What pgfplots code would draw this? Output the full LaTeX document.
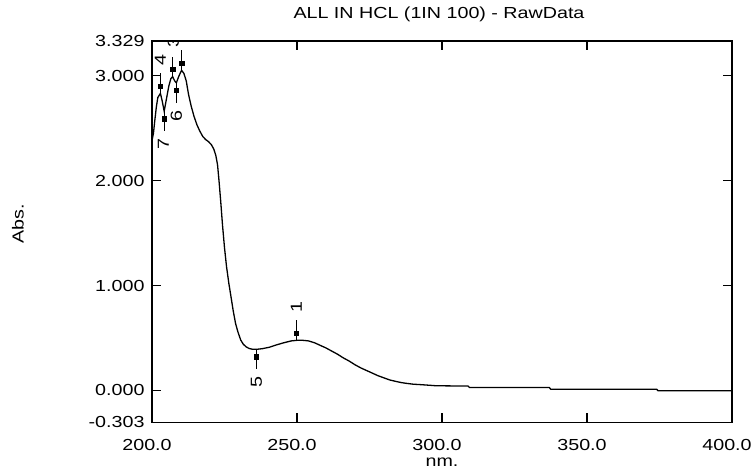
\documentclass[border=0pt]{standalone}
\usepackage{fontspec}
\setmainfont{Liberation Sans}[FakeStretch=1.23]
\usepackage{pgfplots}
\pgfplotsset{compat=1.18}
\begin{document}
\begin{tikzpicture}[font=\fontsize{16}{19}\selectfont]
\path[use as bounding box] (0,0) rectangle (756pt,470pt);
\begin{axis}[
  at={(152pt,47.7pt)}, anchor=south west,
  scale only axis, width=580pt, height=381.3pt,
  xmin=200, xmax=400, ymin=-0.303, ymax=3.329,
  axis line style={line width=1.4pt},
  tick align=inside, major tick length=9pt, tick pos=both,
  tick style={line width=1.4pt, black},
  xtick={250,300,350,400}, xticklabels={250.0,300.0,350.0,400.0},
  extra x ticks={200}, extra x tick labels={200.0},
  ytick={-0.303,0,1,2,3,3.329},
  yticklabels={-0.303,0.000,1.000,2.000,3.000,3.329},
  xticklabel style={anchor=base, yshift=-28pt, xshift=-5pt},
  yticklabel style={anchor=east, xshift=-4pt},
  title={ALL IN HCL (1IN 100) - RawData},
  title style={at={(0.5,1)}, anchor=base, yshift=16pt, xshift=-3pt},
]
\addplot[black, line width=1.3pt] coordinates {
(200.0,2.38) (200.5,2.45) (201.0,2.58) (201.5,2.70) (202.0,2.79) (202.9,2.83)
(203.5,2.76) (204.2,2.66) (205.0,2.78) (205.8,2.90) (206.5,2.97) (207.1,2.99)
(207.8,2.95) (208.4,2.93) (209.2,2.99) (210.2,3.05) (211.0,3.02) (211.8,2.95)
(212.6,2.82) (213.5,2.71) (214.5,2.61) (215.5,2.53) (216.5,2.47) (217.5,2.42)
(218.5,2.39) (219.5,2.37) (220.5,2.34) (221.3,2.30) (222.0,2.24) (222.6,2.15)
(223.1,2.00) (223.7,1.80) (224.3,1.58) (225.0,1.36) (225.7,1.18) (226.5,1.02)
(227.2,0.90) (228.0,0.76) (228.8,0.64) (229.6,0.56) (230.6,0.48) (231.5,0.44)
(232.5,0.415) (233.5,0.40) (234.6,0.393) (236.0,0.392) (238.0,0.398) (240.5,0.412)
(243.0,0.435) (245.5,0.455) (248.0,0.472) (250.0,0.478) (252.0,0.478) (254.0,0.472)
(256.0,0.455) (258.0,0.43) (260.0,0.405) (262.0,0.375) (264.0,0.345) (266.0,0.31)
(268.0,0.28) (270.0,0.245) (272.0,0.215) (274.0,0.19) (276.0,0.165) (278.0,0.14)
(280.0,0.12) (282.0,0.10) (284.0,0.087) (286.0,0.075) (288.0,0.067) (290.0,0.06)
(293.0,0.055) (298.0,0.045) (309.0,0.042) (309.5,0.028) (337.0,0.028) (337.5,0.012)
(374.0,0.012) (374.5,-0.002) (400.0,-0.002)
};
% peak markers (dot above curve, line upward)
\addplot[only marks, mark=square*, mark size=2.2pt, black,
  error bars/.cd, y dir=both, y explicit, error mark=none,
  error bar style={line width=1.3pt, black}] coordinates {
(249.8,0.548) += (0,0.12) -= (0,0.07)
(202.9,2.90) += (0,0.12) -= (0,0.07)
(207.1,3.06) += (0,0.12) -= (0,0.07)
(210.2,3.12) += (0,0.12) -= (0,0.07)
};
% valley markers (dot below curve, line downward)
\addplot[only marks, mark=square*, mark size=2.2pt, black,
  error bars/.cd, y dir=both, y explicit, error mark=none,
  error bar style={line width=1.3pt, black}] coordinates {
(236.0,0.322) += (0,0.07) -= (0,0.12)
(204.2,2.59) += (0,0.07) -= (0,0.12)
(208.4,2.86) += (0,0.07) -= (0,0.12)
};
% labels
\addplot[only marks, mark=*, mark size=0pt, mark options={draw=none, fill=none},
  clip marker paths=true,
  nodes near coords, point meta=explicit symbolic,
  every node near coord/.append style={rotate=90, anchor=center, inner sep=0pt, black}]
coordinates {
(249.8,0.794) [1]
(210.2,3.37) [2]
(207.4,3.315) [3]
(202.9,3.15) [4]
(236.0,0.079) [5]
(208.4,2.615) [6]
(203.9,2.345) [7]
};
\end{axis}
\node[rotate=90] at (18pt,246pt) {Abs.};
\node[anchor=base, inner sep=0pt] at (442pt,3pt) {nm.};
\end{tikzpicture}
\end{document}
